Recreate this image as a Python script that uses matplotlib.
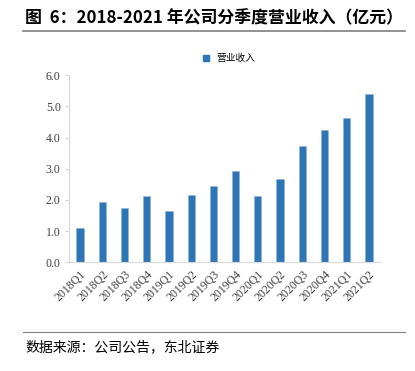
import matplotlib
matplotlib.use("Agg")
import matplotlib.pyplot as plt
from matplotlib.lines import Line2D

categories = ["2018Q1", "2018Q2", "2018Q3", "2018Q4", "2019Q1", "2019Q2", "2019Q3",
              "2019Q4", "2020Q1", "2020Q2", "2020Q3", "2020Q4", "2021Q1", "2021Q2"]
revenue = [1.09, 1.94, 1.74, 2.13, 1.65, 2.15, 2.44, 2.92, 2.12, 2.67, 3.74, 4.23, 4.62, 5.40]
yticks = [0.0, 1.0, 2.0, 3.0, 4.0, 5.0, 6.0]

title = "图  6：2018-2021 年公司分季度营业收入（亿元）"
series_name = "营业收入"
source = "数据来源：公司公告，东北证券"

cjk = ["Noto Sans CJK SC", "DejaVu Sans"]
serif = ["Liberation Serif", "Noto Sans CJK SC"]
bar_color = "#2E75B6"

fig = plt.figure(figsize=(4.15, 3.71), dpi=100)
ax = fig.add_axes([69/415, 1-262.3/371, (380-69)/415, (262.3-75.3)/371])

x = range(len(categories))
ax.bar(x, revenue, width=0.33, color=bar_color, edgecolor="#8DB4E2", linewidth=0.4)

ax.set_xlim(-0.5, len(categories)-0.5)
ax.set_ylim(0, 6.0)
ax.set_yticks(yticks)
ax.set_yticklabels([f"{v:.1f}" for v in yticks], fontfamily=serif, fontsize=8.5, color="#404040")
ax.set_xticks(list(x))
ax.set_xticklabels(categories, rotation=45, ha="right", rotation_mode="anchor",
                   fontfamily=serif, fontsize=8.5, color="#404040")
for s in ["top", "right"]:
    ax.spines[s].set_visible(False)
ax.spines["left"].set_color("#D9D9D9")
ax.spines["bottom"].set_color("#D9D9D9")
ax.tick_params(axis="y", length=3, color="#D9D9D9", pad=3)
ax.tick_params(axis="x", length=0, pad=4)

handle = Line2D([], [], marker="s", linestyle="none", markersize=4.5, color=bar_color)
fig.legend([handle], [series_name], loc="center", bbox_to_anchor=(226/415, 1-58/371),
           frameon=False, prop={"family": cjk, "size": 7}, handletextpad=0.1, borderaxespad=0)

fig.text(25/415, 1-18/371, title, fontfamily=cjk, fontsize=12.2, fontweight="bold",
         va="center", ha="left", color="#000000")
fig.add_artist(Line2D([23/415, 405/415], [1-31/371, 1-31/371], color="#7F7F7F", linewidth=1.2))
fig.add_artist(Line2D([23/415, 405/415], [1-332/371, 1-332/371], color="#7F7F7F", linewidth=0.8))
fig.text(25/415, 1-347/371, source, fontfamily=cjk, fontsize=10, va="center", ha="left",
         color="#000000")

fig.savefig("out.png", dpi=100)
